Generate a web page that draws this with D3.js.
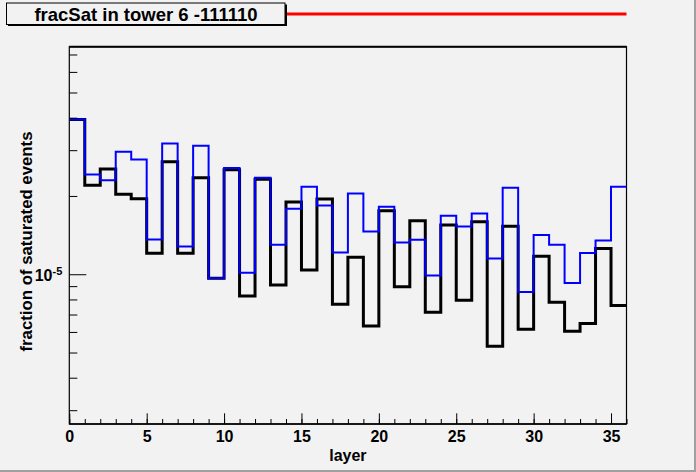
<!DOCTYPE html>
<html>
<head>
<meta charset="utf-8">
<script src="https://cdn.jsdelivr.net/npm/d3@7"></script>
<style>
  html, body { margin: 0; padding: 0; background: #f2f2f2; }
  svg { display: block; }
  text { font-family: "Liberation Sans", Arial, Helvetica, sans-serif; font-weight: bold; fill: #000; }
</style>
</head>
<body>
<svg id="chart" width="696" height="472"></svg>
<script>
// ---- data ----
const layers = d3.range(0, 36);   // bin low edges, each bin has width 1
const blackValues = [
  3.94e-5, 2.20e-5, 2.54e-5, 2.03e-5, 1.95e-5, 1.205e-5, 2.71e-5, 1.205e-5, 2.35e-5, 9.65e-6,
  2.52e-5, 8.25e-6, 2.32e-5, 9.09e-6, 1.896e-5, 1.039e-5, 1.946e-5, 7.66e-6, 1.163e-5, 6.32e-6,
  1.754e-5, 8.96e-6, 1.606e-5, 7.14e-6, 1.545e-5, 7.94e-6, 1.591e-5, 5.28e-6, 1.531e-5, 6.14e-6,
  1.173e-5, 7.80e-6, 6.03e-6, 6.47e-6, 1.255e-5, 7.59e-6
];
const blueValues = [
  3.94e-5, 2.42e-5, 2.30e-5, 2.96e-5, 2.76e-5, 1.36e-5, 3.18e-5, 1.278e-5, 3.12e-5, 9.65e-6,
  2.56e-5, 1.014e-5, 2.35e-5, 1.297e-5, 1.786e-5, 2.17e-5, 1.839e-5, 1.211e-5, 2.046e-5, 1.46e-5,
  1.818e-5, 1.324e-5, 1.356e-5, 9.88e-6, 1.678e-5, 1.526e-5, 1.713e-5, 1.149e-5, 2.15e-5, 8.55e-6,
  1.414e-5, 1.297e-5, 9.26e-6, 1.208e-5, 1.348e-5, 2.17e-5
];
const xMajorTicks = [0, 5, 10, 15, 20, 25, 30, 35];
const xMinorTicks = d3.range(0, 37);
const yMajorTicks = [1e-5];
const yMinorTicks = [3e-6, 4e-6, 5e-6, 6e-6, 7e-6, 8e-6, 9e-6, 2e-5, 3e-5, 4e-5, 5e-5, 6e-5, 7e-5];
const titleText = "fracSat in tower 6 -111110";
const xTitle = "layer";
const yTitle = "fraction of saturated events";

// ---- layout ----
const svg = d3.select("#chart");
const W = 696, H = 472;
const frame = { left: 69.3, right: 626.5, top: 46.7, bottom: 424 };

const x = d3.scaleLinear().domain([0, 36]).range([frame.left, frame.right]);
const y = d3.scaleLog().domain([2.655e-6, 7.5e-5]).range([frame.bottom, frame.top]);

// canvas background + bevel
svg.append("rect").attr("x", 0).attr("y", 0).attr("width", W).attr("height", H).attr("fill", "#f2f2f2");
svg.append("rect").attr("x", W - 2).attr("y", 0).attr("width", 2).attr("height", H).attr("fill", "#a0a0a0");
svg.append("rect").attr("x", 0).attr("y", H - 2).attr("width", W).attr("height", 2).attr("fill", "#a0a0a0");

// frame
svg.append("rect")
  .attr("x", frame.left).attr("y", frame.top)
  .attr("width", frame.right - frame.left).attr("height", frame.bottom - frame.top)
  .attr("fill", "#f2f2f2").attr("stroke", "#000").attr("stroke-width", 1.2);
svg.append("line")
  .attr("x1", frame.left).attr("x2", frame.right)
  .attr("y1", frame.top).attr("y2", frame.top)
  .attr("stroke", "#000").attr("stroke-width", 2);

// histograms
function stepPath(vals) {
  let d = "";
  vals.forEach((v, i) => {
    const x0 = x(layers[i]), x1 = x(layers[i] + 1), yy = y(v);
    d += (i === 0 ? "M" : "L") + x0 + "," + yy + "L" + x1 + "," + yy;
  });
  return d;
}
svg.append("clipPath").attr("id", "clipf").append("rect")
  .attr("x", frame.left).attr("y", frame.top)
  .attr("width", frame.right - frame.left).attr("height", frame.bottom - frame.top);

svg.append("path").attr("d", stepPath(blackValues))
  .attr("fill", "none").attr("stroke", "#000").attr("stroke-width", 3)
  .attr("stroke-linejoin", "miter").attr("clip-path", "url(#clipf)");
svg.append("path").attr("d", stepPath(blueValues))
  .attr("fill", "none").attr("stroke", "#0000ff").attr("stroke-width", 2)
  .attr("stroke-linejoin", "miter").attr("clip-path", "url(#clipf)");

// x axis
const gxMinor = svg.append("g").attr("transform", `translate(0,${frame.bottom})`)
  .call(d3.axisBottom(x).tickValues(xMinorTicks).tickSizeInner(-5).tickSizeOuter(0).tickFormat(""));
const gxMajor = svg.append("g").attr("transform", `translate(0,${frame.bottom})`)
  .call(d3.axisBottom(x).tickValues(xMajorTicks).tickSizeInner(-10.7).tickSizeOuter(0).tickPadding(6.5)
    .tickFormat(d3.format("d")));
[gxMinor, gxMajor].forEach(g => {
  g.select(".domain").remove();
  g.selectAll(".tick line").attr("stroke", "#000").attr("stroke-width", 1);
});
gxMajor.selectAll(".tick text").attr("font-size", "16px").attr("font-family", "Liberation Sans, Arial, sans-serif")
  .attr("font-weight", "bold").attr("fill", "#000");
svg.append("line").attr("x1", frame.left).attr("x2", frame.right)
  .attr("y1", frame.bottom).attr("y2", frame.bottom).attr("stroke", "#000").attr("stroke-width", 1.3);

// y axis
const gyMinor = svg.append("g").attr("transform", `translate(${frame.left},0)`)
  .call(d3.axisLeft(y).tickValues(yMinorTicks).tickSizeInner(-8).tickSizeOuter(0).tickFormat(""));
const gyMajor = svg.append("g").attr("transform", `translate(${frame.left},0)`)
  .call(d3.axisLeft(y).tickValues(yMajorTicks).tickSizeInner(-17).tickSizeOuter(0).tickFormat(""));
[gyMinor, gyMajor].forEach(g => {
  g.select(".domain").remove();
  g.selectAll(".tick line").attr("stroke", "#000").attr("stroke-width", 1);
});
// 10^-5 label
gyMajor.selectAll(".tick").each(function (d) {
  const exp = Math.round(Math.log10(d));
  const t = d3.select(this).append("text")
    .attr("x", -7).attr("y", 0).attr("dy", "0.42em")
    .attr("text-anchor", "end").attr("font-size", "16px");
  t.append("tspan").text("10");
  t.append("tspan").attr("dy", "-0.6em").attr("font-size", "11px").text(String(exp));
});

// axis titles
svg.append("text").attr("x", (frame.left + frame.right) / 2).attr("y", 461)
  .attr("text-anchor", "middle").attr("font-size", "16px").text(xTitle);
svg.append("text")
  .attr("transform", `translate(32,${241.5}) rotate(-90)`)
  .attr("text-anchor", "middle").attr("font-size", "16.8px").text(yTitle);

// title box
svg.append("rect").attr("x", 8).attr("y", 4.5).attr("width", 279).attr("height", 21.5).attr("fill", "#000");
svg.append("rect").attr("x", 6.5).attr("y", 3).attr("width", 278.5).attr("height", 21.5)
  .attr("fill", "#f2f2f2").attr("stroke", "#000").attr("stroke-width", 1);
svg.append("text").attr("x", 146).attr("y", 20.5).attr("text-anchor", "middle")
  .attr("font-size", "18.5px").text(titleText);

// red line to the right of the title
svg.append("line").attr("x1", 287).attr("x2", frame.right).attr("y1", 14).attr("y2", 14)
  .attr("stroke", "#ff0000").attr("stroke-width", 3);
</script>
</body>
</html>
